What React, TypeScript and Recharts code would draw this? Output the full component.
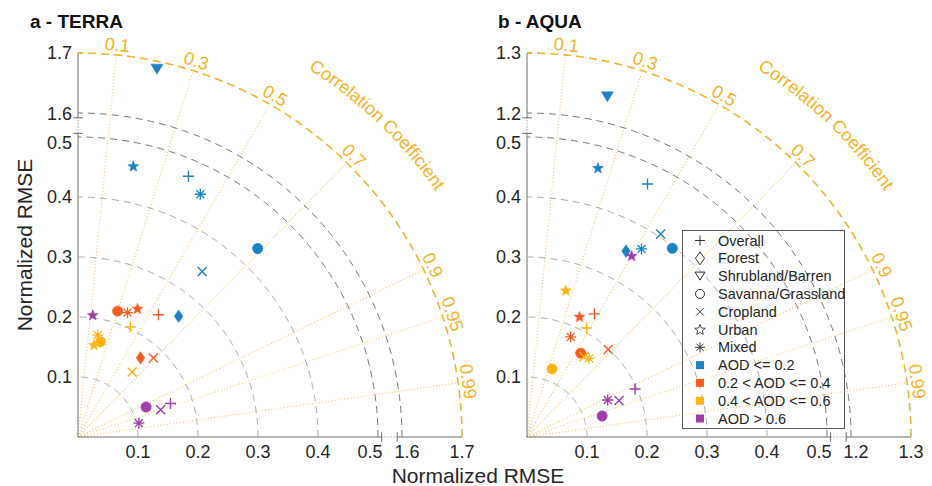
import React from 'react';
import { ScatterChart, Scatter, XAxis, YAxis, ReferenceLine, Legend } from 'recharts';

const FONT = '"Liberation Sans", Arial, Helvetica, sans-serif';

// ---------- categories ----------
const LAND_CLASSES = ['Overall', 'Forest', 'Shrubland/Barren', 'Savanna/Grassland', 'Cropland', 'Urban', 'Mixed'];
const AOD_CLASSES = ['AOD <= 0.2', '0.2 < AOD <= 0.4', '0.4 < AOD <= 0.6', 'AOD > 0.6'];
const AOD_COLORS = ['#1b83c5', '#f85c21', '#ffb414', '#a23eaa'];

// ---------- tick labels ----------
const CORR_TICKS = [0.1, 0.3, 0.5, 0.7, 0.9, 0.95, 0.99];
const RMSE_GRID = [0.1, 0.2, 0.3, 0.4, 0.5];
const TERRA_UPPER = [1.6, 1.7];
const AQUA_UPPER = [1.2, 1.3];

// ---------- series values: [land class, normalized RMSE, correlation] ----------
type Pt = [string, number, number];

const TERRA_AOD1: Pt[] = [
  ['Overall', 0.472, 0.39], ['Forest', 0.262, 0.64], ['Shrubland/Barren', 1.687, 0.21],
  ['Savanna/Grassland', 0.434, 0.69], ['Cropland', 0.345, 0.6], ['Urban', 0.461, 0.2], ['Mixed', 0.453, 0.45],
];
const TERRA_AOD2: Pt[] = [
  ['Overall', 0.244, 0.55], ['Forest', 0.168, 0.62], ['Savanna/Grassland', 0.22, 0.3],
  ['Cropland', 0.182, 0.69], ['Urban', 0.236, 0.42], ['Mixed', 0.223, 0.37],
];
const TERRA_AOD3: Pt[] = [
  ['Overall', 0.203, 0.43], ['Savanna/Grassland', 0.163, 0.23], ['Cropland', 0.141, 0.64],
  ['Urban', 0.156, 0.17], ['Mixed', 0.173, 0.19],
];
const TERRA_AOD4: Pt[] = [
  ['Overall', 0.164, 0.94], ['Savanna/Grassland', 0.124, 0.915], ['Cropland', 0.145, 0.95],
  ['Urban', 0.205, 0.12], ['Mixed', 0.104, 0.975],
];

const AQUA_AOD1: Pt[] = [
  ['Overall', 0.467, 0.43], ['Forest', 0.351, 0.47], ['Shrubland/Barren', 1.2425, 0.23],
  ['Savanna/Grassland', 0.397, 0.61], ['Cropland', 0.405, 0.55], ['Urban', 0.464, 0.255], ['Mixed', 0.367, 0.52],
];
const AQUA_AOD2: Pt[] = [
  ['Overall', 0.234, 0.48], ['Savanna/Grassland', 0.166, 0.54], ['Cropland', 0.199, 0.68],
  ['Urban', 0.219, 0.4], ['Mixed', 0.182, 0.4],
];
const AQUA_AOD3: Pt[] = [
  ['Overall', 0.207, 0.48], ['Savanna/Grassland', 0.121, 0.345], ['Cropland', 0.164, 0.58],
  ['Urban', 0.253, 0.256], ['Mixed', 0.167, 0.62],
];
const AQUA_AOD4: Pt[] = [
  ['Overall', 0.197, 0.914], ['Savanna/Grassland', 0.13, 0.963], ['Cropland', 0.165, 0.93],
  ['Urban', 0.349, 0.5], ['Mixed', 0.148, 0.909],
];

const TERRA_SERIES = [TERRA_AOD1, TERRA_AOD2, TERRA_AOD3, TERRA_AOD4];
const AQUA_SERIES = [AQUA_AOD1, AQUA_AOD2, AQUA_AOD3, AQUA_AOD4];

// ---------- broken radial axis ----------
const LOW_MAX = 0.5;
const UPPER_START_DISP = 0.54;
const DISP_MAX = 0.64;
const PX_PER_UNIT = 384 / DISP_MAX;

const GOLD = '#f5b22c';
const GOLD_LIGHT = '#f8c45c';
const TEXT = '#262626';

function starPath(cx: number, cy: number, R: number, ratio = 0.42) {
  let d = '';
  for (let i = 0; i < 10; i++) {
    const r = i % 2 === 0 ? R : R * ratio;
    const a = -Math.PI / 2 + (i * Math.PI) / 5;
    d += (i === 0 ? 'M' : 'L') + (cx + r * Math.cos(a)).toFixed(2) + ',' + (cy + r * Math.sin(a)).toFixed(2);
  }
  return d + 'Z';
}

function markerEl(land: string, cx: number, cy: number, color: string, legend = false) {
  const fill = legend ? 'none' : color;
  const stroke = legend ? '#333' : color;
  const sw = legend ? 1 : 1.4;
  switch (land) {
    case 'Overall': {
      const s = legend ? 5 : 5.5;
      return <path d={`M${cx - s},${cy}H${cx + s}M${cx},${cy - s}V${cy + s}`} stroke={stroke} strokeWidth={sw} fill="none" />;
    }
    case 'Forest': {
      const w = legend ? 4.5 : 4.3, h = legend ? 6.5 : 6.3;
      return <path d={`M${cx},${cy - h}L${cx + w},${cy}L${cx},${cy + h}L${cx - w},${cy}Z`} fill={fill} stroke={stroke} strokeWidth={legend ? 1 : 0.5} />;
    }
    case 'Shrubland/Barren': {
      const w = legend ? 5 : 6, h = legend ? 8 : 10;
      return <path d={`M${cx - w},${cy - h / 2}L${cx + w},${cy - h / 2}L${cx},${cy + h / 2}Z`} fill={fill} stroke={stroke} strokeWidth={legend ? 1 : 0.5} />;
    }
    case 'Savanna/Grassland':
      return <circle cx={cx} cy={cy} r={legend ? 4.5 : 5.2} fill={fill} stroke={stroke} strokeWidth={legend ? 1 : 0.5} />;
    case 'Cropland': {
      const s = legend ? 3.8 : 4.5;
      return <path d={`M${cx - s},${cy - s}L${cx + s},${cy + s}M${cx - s},${cy + s}L${cx + s},${cy - s}`} stroke={stroke} strokeWidth={sw} fill="none" />;
    }
    case 'Urban':
      return <path d={starPath(cx, cy + 0.5, legend ? 5.5 : 5.8, legend ? 0.45 : 0.42)} fill={fill} stroke={stroke} strokeWidth={legend ? 0.9 : 0.5} />;
    case 'Mixed': {
      const s = legend ? 5 : 5.5, t = s * 0.72;
      return (
        <path
          d={`M${cx - s},${cy}H${cx + s}M${cx},${cy - s}V${cy + s}M${cx - t},${cy - t}L${cx + t},${cy + t}M${cx - t},${cy + t}L${cx + t},${cy - t}`}
          stroke={stroke} strokeWidth={legend ? 1 : 1.3} fill="none"
        />
      );
    }
    default:
      return <g />;
  }
}

function arcPoints(rd: number) {
  const pts = [];
  for (let k = 0; k <= 90; k++) {
    const t = (k * Math.PI) / 180;
    pts.push({ x: Math.min(DISP_MAX, rd * Math.cos(t)), y: Math.min(DISP_MAX, rd * Math.sin(t)) });
  }
  return pts;
}

const LegendContent = () => {
  const rows = [
    ...LAND_CLASSES.map((l) => ({ label: l, land: l, color: '' })),
    ...AOD_CLASSES.map((a, i) => ({ label: a, land: '', color: AOD_COLORS[i] })),
  ];
  return (
    <div style={{ width: 163, height: 199, border: '1px solid #5a5a5a', boxSizing: 'border-box', position: 'relative' }}>
      <svg width={163} height={199} style={{ position: 'absolute', left: -1, top: -1 }}>
        {rows.map((r, i) => {
          const cy = 10.5 + i * 17.8;
          return (
            <g key={r.label}>
              {r.land ? markerEl(r.land, 18, cy, '#333', true) : <rect x={14} y={cy - 4} width={8} height={8} fill={r.color} />}
              <text x={36} y={cy + 5} fontSize={14.5} fill={TEXT} fontFamily={FONT}>{r.label}</text>
            </g>
          );
        })}
      </svg>
    </div>
  );
};

function Panel({ left, width, upper, series, idp, legend }: any) {
  const disp = (r: number) => (r <= LOW_MAX ? r : UPPER_START_DISP + (r - upper[0]));
  const data = series.map((arr: Pt[], k: number) =>
    arr.map(([land, r, c]) => {
      const d = disp(r);
      return { x: d * c, y: d * Math.sqrt(1 - c * c), land, aod: k };
    })
  );
  const ticks = [0.1, 0.2, 0.3, 0.4, 0.5, UPPER_START_DISP, DISP_MAX];
  const labelOf = (v: number) => {
    if (v < 0.45) return { t: v.toFixed(1), k: 0 };
    if (v < 0.52) return { t: '0.5', k: 1 };
    if (v < 0.6) return { t: upper[0].toFixed(1), k: 2 };
    return { t: upper[1].toFixed(1), k: 3 };
  };
  const XTick = (p: any) => {
    const { t, k } = labelOf(p.payload.value);
    const dx = k === 1 ? -8 : k === 2 ? 5 : 0;
    return <text x={p.x + dx} y={p.y} dy="0.71em" textAnchor="middle" fontSize={18} fill={TEXT} fontFamily={FONT}>{t}</text>;
  };
  const YTick = (p: any) => {
    const { t, k } = labelOf(p.payload.value);
    const dy = k === 1 ? 6 : k === 2 ? 1 : 0;
    return <text x={p.x + 2} y={p.y + dy} dy="0.355em" textAnchor="end" fontSize={18} fill={TEXT} fontFamily={FONT}>{t}</text>;
  };
  const hidden = () => <g />;
  const CorrLabel = (p: any) => {
    const c = p.payload.c;
    const th = Math.acos(c);
    const d = 4;
    const x = p.cx + d * Math.cos(th);
    const y = p.cy - d * Math.sin(th);
    const rot = 90 - (th * 180) / Math.PI;
    return (
      <text transform={`translate(${x.toFixed(2)},${y.toFixed(2)}) rotate(${rot.toFixed(2)})`} textAnchor="middle" fontSize={18} fill={GOLD} fontFamily={FONT}>
        {String(c)}
      </text>
    );
  };
  const CorrTitle = (p: any) => {
    const R = 434;
    const a0 = ((46.2 + 34) * Math.PI) / 180;
    const a1 = ((46.2 - 34) * Math.PI) / 180;
    const sx = p.cx + R * Math.cos(a0), sy = p.cy - R * Math.sin(a0);
    const ex = p.cx + R * Math.cos(a1), ey = p.cy - R * Math.sin(a1);
    const id = `corr-title-${idp}`;
    return (
      <g>
        <path id={id} d={`M${sx},${sy}A${R},${R} 0 0 1 ${ex},${ey}`} fill="none" stroke="none" />
        <text fontSize={18} fill={GOLD} fontFamily={FONT}>
          <textPath href={`#${id}`} startOffset="50%" textAnchor="middle">Correlation Coefficient</textPath>
        </text>
      </g>
    );
  };
  const corrData = CORR_TICKS.map((c) => ({ x: DISP_MAX * c, y: Math.min(DISP_MAX, DISP_MAX * Math.sqrt(1 - c * c)), c }));
  const axisColor = '#6e6e6e';
  const bt = 0.008;
  return (
    <div style={{ position: 'absolute', left, top: 0 }}>
      <ScatterChart width={width} height={486} margin={{ top: 53, right: width - 462, bottom: 19, left: 38 }}>
        <XAxis type="number" dataKey="x" domain={[0, DISP_MAX]} ticks={ticks} interval={0} height={30} axisLine={false} tickLine={false} tick={XTick} />
        <YAxis type="number" dataKey="y" domain={[0, DISP_MAX]} ticks={ticks} interval={0} width={40} axisLine={false} tickLine={false} tick={YTick} />
        {CORR_TICKS.map((c) => (
          <ReferenceLine key={'r' + c} segment={[{ x: 0, y: 0 }, { x: DISP_MAX * c, y: DISP_MAX * Math.sqrt(1 - c * c) }]} stroke={GOLD_LIGHT} strokeWidth={1.1} strokeDasharray="1 2.2" ifOverflow="visible" />
        ))}
        {RMSE_GRID.map((r) => (
          <Scatter key={'a' + r} data={arcPoints(r)} shape={hidden} isAnimationActive={false} line={{ stroke: r === 0.5 ? '#7a7a7a' : '#adadad', strokeWidth: 1, strokeDasharray: '7 5' }} />
        ))}
        <Scatter data={arcPoints(UPPER_START_DISP)} shape={hidden} isAnimationActive={false} line={{ stroke: '#7a7a7a', strokeWidth: 1, strokeDasharray: '7 5' }} />
        <Scatter data={arcPoints(DISP_MAX)} shape={hidden} isAnimationActive={false} line={{ stroke: GOLD, strokeWidth: 1.6, strokeDasharray: '8 5' }} />
        {/* axis lines with break */}
        <ReferenceLine segment={[{ x: 0, y: 0 }, { x: 0.506, y: 0 }]} stroke={axisColor} ifOverflow="visible" />
        <ReferenceLine segment={[{ x: 0.506, y: 0 }, { x: 0.532, y: 0 }]} stroke={axisColor} strokeDasharray="1 2" ifOverflow="visible" />
        <ReferenceLine segment={[{ x: 0.532, y: 0 }, { x: DISP_MAX, y: 0 }]} stroke={axisColor} ifOverflow="visible" />
        <ReferenceLine segment={[{ x: 0, y: 0 }, { x: 0, y: 0.506 }]} stroke={axisColor} ifOverflow="visible" />
        <ReferenceLine segment={[{ x: 0, y: 0.506 }, { x: 0, y: 0.532 }]} stroke={axisColor} strokeDasharray="1 2" ifOverflow="visible" />
        <ReferenceLine segment={[{ x: 0, y: 0.532 }, { x: 0, y: DISP_MAX }]} stroke={axisColor} ifOverflow="visible" />
        <ReferenceLine segment={[{ x: 0, y: DISP_MAX }, { x: 0.008, y: DISP_MAX }]} stroke={axisColor} ifOverflow="visible" />
        {[0.506, 0.532].map((b) => (
          <ReferenceLine key={'bx' + b} segment={[{ x: b, y: -bt }, { x: b, y: bt }]} stroke={axisColor} ifOverflow="visible" />
        ))}
        {[0.506, 0.532].map((b) => (
          <ReferenceLine key={'by' + b} segment={[{ x: -bt, y: b }, { x: bt, y: b }]} stroke={axisColor} ifOverflow="visible" />
        ))}
        <Scatter data={corrData} shape={CorrLabel} isAnimationActive={false} />
        <Scatter data={[{ x: 0, y: 0 }]} shape={CorrTitle} isAnimationActive={false} />
        {data.map((arr: any[], k: number) => (
          <Scatter
            key={'s' + k}
            name={AOD_CLASSES[k]}
            data={arr}
            isAnimationActive={false}
            shape={(p: any) => markerEl(p.payload.land, p.cx, p.cy, AOD_COLORS[k])}
          />
        ))}
        {legend && (
          <Legend layout="vertical" align="center" verticalAlign="middle" content={LegendContent} wrapperStyle={{ left: 233, top: 230, width: 163, height: 199 }} />
        )}
      </ScatterChart>
    </div>
  );
}

export default function App() {
  return (
    <div style={{ position: 'absolute', left: 0, top: 0, width: 932, height: 486, background: '#fff', overflow: 'hidden' }}>
      <Panel left={0} width={480} upper={TERRA_UPPER} series={TERRA_SERIES} idp="a" />
      <Panel left={449} width={483} upper={AQUA_UPPER} series={AQUA_SERIES} idp="b" legend />
      <svg width={932} height={486} style={{ position: 'absolute', left: 0, top: 0, pointerEvents: 'none' }}>
        <text x={30} y={28} fontSize={19} fontWeight="bold" fill="#111" fontFamily={FONT}>a - TERRA</text>
        <text x={498} y={28} fontSize={19} fontWeight="bold" fill="#111" fontFamily={FONT}>b - AQUA</text>
        <text x={478} y={483} fontSize={21} textAnchor="middle" fill={TEXT} fontFamily={FONT}>Normalized RMSE</text>
        <text transform="translate(32,245) rotate(-90)" fontSize={21} textAnchor="middle" fill={TEXT} fontFamily={FONT}>Normalized RMSE</text>
      </svg>
    </div>
  );
}
